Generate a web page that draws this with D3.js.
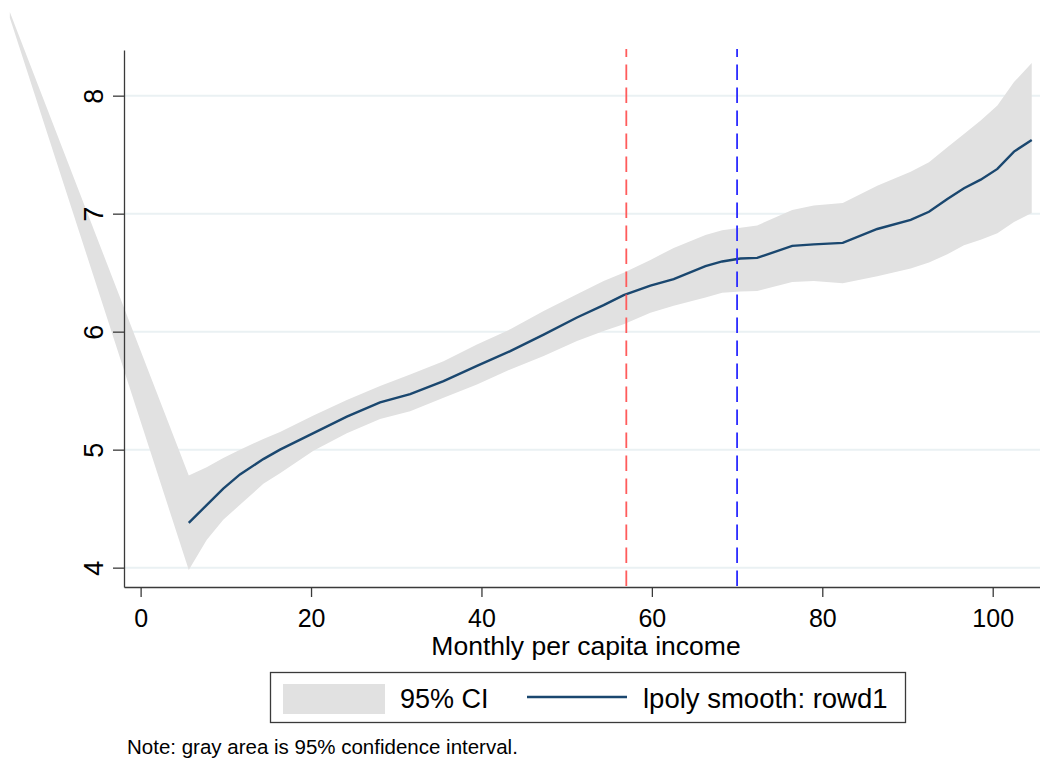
<!DOCTYPE html>
<html>
<head>
<meta charset="utf-8">
<script src="https://cdn.jsdelivr.net/npm/d3@7"></script>
<style>
    body { margin: 0; background: white; }
    text { font-family: 'Liberation Sans', Arial, sans-serif; fill: black; }
</style>
</head>
<body>
<div id="plotting-area"><svg></svg></div>
<script>
const svgWidth = 1040
const svgHeight = 758

// lpoly evaluation grid (monthly per capita income)
const incomeGrid = [-15.35, 5.65, 7.75, 9.7, 11.66, 14.4, 16.36, 20.28, 24.2, 28.1, 31.63, 35.55,
    39.47, 43.38, 47.3, 51.21, 54.34, 56.69, 59.83, 62.56, 66.29, 68.25, 70.4, 72.36, 76.47,
    79.0, 82.4, 86.45, 90.37, 92.52, 94.68, 96.63, 98.59, 100.55, 102.5, 104.58]
const smoothFit = [null, 4.38, 4.53, 4.67, 4.79, 4.92, 5.0, 5.14, 5.28, 5.40, 5.47, 5.58,
    5.71, 5.835, 5.975, 6.12, 6.225, 6.31, 6.39, 6.445, 6.555, 6.595, 6.62, 6.625, 6.727,
    6.74, 6.752, 6.87, 6.948, 7.016, 7.124, 7.215, 7.288, 7.379, 7.526, 7.625]
const ciLower = [8.66, 3.98, 4.235, 4.405, 4.533, 4.71, 4.80, 4.99, 5.14, 5.26, 5.325, 5.44,
    5.552, 5.68, 5.793, 5.92, 6.005, 6.062, 6.16, 6.22, 6.29, 6.33, 6.34, 6.345, 6.42,
    6.43, 6.41, 6.47, 6.535, 6.586, 6.657, 6.733, 6.778, 6.835, 6.93, 7.005]
const ciUpper = [8.71, 4.78, 4.85, 4.93, 5.0, 5.09, 5.15, 5.29, 5.42, 5.54, 5.637, 5.75,
    5.892, 6.02, 6.175, 6.317, 6.43, 6.50, 6.608, 6.71, 6.82, 6.86, 6.88, 6.90, 7.03,
    7.07, 7.09, 7.237, 7.356, 7.436, 7.563, 7.676, 7.79, 7.917, 8.115, 8.277]

const xTicks = [0, 20, 40, 60, 80, 100]
const yTicks = [4, 5, 6, 7, 8]
const refLines = [{ value: 57, color: '#ff5c5c' }, { value: 70, color: '#2b2bff' }]

const lineColor = '#1a476f'
const bandColor = '#e1e1e1'
const gridColor = '#eaf1f3'
const axisColor = '#3a3a3a'

const plot = { left: 124, right: 1040, top: 50, bottom: 587 }

let svg = d3.select('#plotting-area svg')
    .attr('width', svgWidth)
    .attr('height', svgHeight)

const x = d3.scaleLinear()
    .domain([-1.95, 105.55])
    .range([plot.left, plot.right])

const y = d3.scaleLinear()
    .domain([3.836, 8.387])
    .range([plot.bottom, plot.top])

const rows = incomeGrid.map((d, i) => ({ x: d, fit: smoothFit[i], lo: ciLower[i], hi: ciUpper[i] }))

// gridlines
svg.append('g')
    .selectAll('line')
    .data(yTicks)
    .join('line')
    .attr('x1', plot.left + 1)
    .attr('x2', plot.right)
    .attr('y1', d => y(d))
    .attr('y2', d => y(d))
    .attr('stroke', gridColor)
    .attr('stroke-width', 2)

// confidence band (Stata draws it past the plot region, so no clipping)
const band = d3.area()
    .x(d => x(d.x))
    .y0(d => y(d.lo))
    .y1(d => y(d.hi))

svg.append('path')
    .datum(rows)
    .attr('d', band)
    .attr('fill', bandColor)

const smooth = d3.line()
    .defined(d => d.fit !== null)
    .x(d => x(d.x))
    .y(d => y(d.fit))

svg.append('path')
    .datum(rows)
    .attr('d', smooth)
    .attr('fill', 'none')
    .attr('stroke', lineColor)
    .attr('stroke-width', 2.4)

// reference lines
svg.append('g')
    .selectAll('line')
    .data(refLines)
    .join('line')
    .attr('x1', d => x(d.value))
    .attr('x2', d => x(d.value))
    .attr('y1', plot.top - 1)
    .attr('y2', plot.bottom)
    .attr('stroke', d => d.color)
    .attr('stroke-width', 1.8)
    .attr('stroke-dasharray', '15.5,7.5')
    .attr('stroke-dashoffset', 7.5)

// axes
const xAxis = d3.axisBottom(x)
    .tickValues(xTicks)
    .tickSize(10)
    .tickPadding(12)
    .tickSizeOuter(0)

const gx = svg.append('g')
    .attr('transform', `translate(0, ${plot.bottom})`)
    .call(xAxis)

gx.select('.domain').attr('stroke', axisColor).attr('stroke-width', 1.3)
gx.selectAll('.tick line').attr('stroke', axisColor).attr('stroke-width', 1.3)
gx.selectAll('.tick text')
    .style('font-family', "'Liberation Sans', Arial, sans-serif")
    .style('font-size', '25px')
    .attr('fill', 'black')

const yAxis = d3.axisLeft(y)
    .tickValues(yTicks)
    .tickSize(11)
    .tickSizeOuter(0)
    .tickFormat('')

const gy = svg.append('g')
    .attr('transform', `translate(${plot.left}, 0)`)
    .call(yAxis)

gy.select('.domain').attr('stroke', axisColor).attr('stroke-width', 1.3)
gy.selectAll('.tick line').attr('stroke', axisColor).attr('stroke-width', 1.3)

gy.selectAll('.tick')
    .append('text')
    .attr('transform', 'translate(-21, 0) rotate(-90)')
    .attr('text-anchor', 'middle')
    .style('font-size', '27px')
    .text(d => d)

svg.append('text')
    .attr('x', (plot.left + plot.right) / 2 + 4)
    .attr('y', 655)
    .attr('text-anchor', 'middle')
    .style('font-size', '26.5px')
    .text('Monthly per capita income')

// legend
const legend = svg.append('g')

legend.append('rect')
    .attr('x', 270.5)
    .attr('y', 672.5)
    .attr('width', 635)
    .attr('height', 50)
    .attr('fill', 'white')
    .attr('stroke', axisColor)
    .attr('stroke-width', 1.3)

legend.append('rect')
    .attr('x', 283)
    .attr('y', 684)
    .attr('width', 102)
    .attr('height', 30)
    .attr('fill', bandColor)

legend.append('text')
    .attr('x', 400)
    .attr('y', 708)
    .style('font-size', '27px')
    .text('95% CI')

legend.append('line')
    .attr('x1', 527)
    .attr('x2', 627)
    .attr('y1', 697)
    .attr('y2', 697)
    .attr('stroke', lineColor)
    .attr('stroke-width', 2.4)

legend.append('text')
    .attr('x', 643)
    .attr('y', 708)
    .style('font-size', '27.5px')
    .text('lpoly smooth: rowd1')

svg.append('text')
    .attr('x', 127)
    .attr('y', 754)
    .style('font-size', '20.5px')
    .text('Note: gray area is 95% confidence interval.')
</script>
</body>
</html>
